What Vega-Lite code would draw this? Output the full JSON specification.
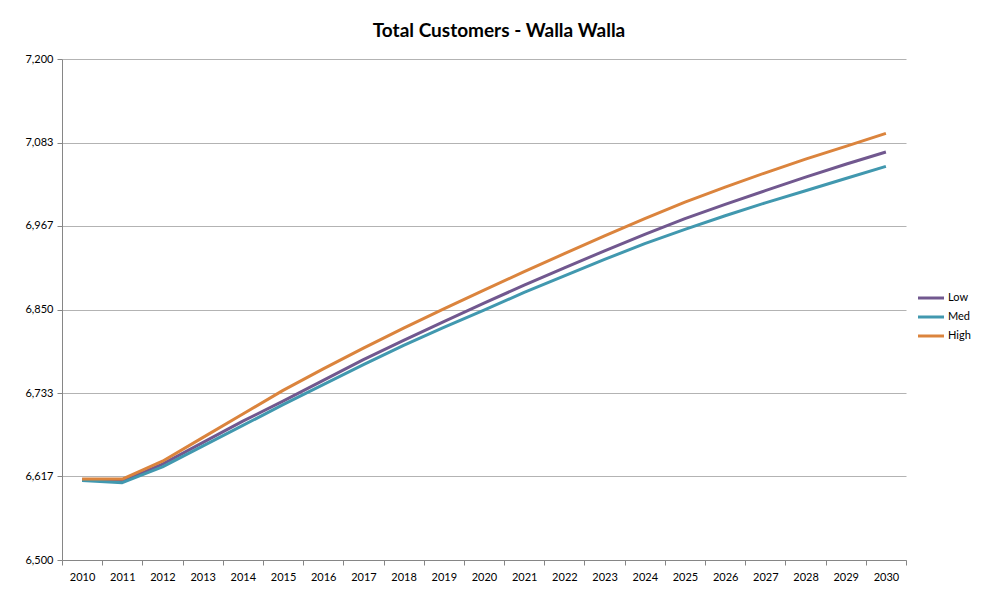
{
  "$schema": "https://vega.github.io/schema/vega-lite/v6.json",
  "width": 844,
  "height": 501,
  "autosize": {"type": "none"},
  "padding": {"left": 62, "top": 59, "right": 79, "bottom": 39},
  "background": "white",
  "title": {
    "text": "Total Customers - Walla Walla",
    "font": "Lato",
    "fontSize": 19,
    "fontWeight": "bold",
    "color": "#000000",
    "anchor": "middle",
    "dx": 15,
    "offset": 12
  },
  "config": {
    "view": {"stroke": null},
    "font": "Lato"
  },
  "data": {
    "values": [
      {"year": "2010", "series": "Low", "value": 6612},
      {"year": "2011", "series": "Low", "value": 6610},
      {"year": "2012", "series": "Low", "value": 6634},
      {"year": "2013", "series": "Low", "value": 6664},
      {"year": "2014", "series": "Low", "value": 6694},
      {"year": "2015", "series": "Low", "value": 6722},
      {"year": "2016", "series": "Low", "value": 6751},
      {"year": "2017", "series": "Low", "value": 6780},
      {"year": "2018", "series": "Low", "value": 6807},
      {"year": "2019", "series": "Low", "value": 6833},
      {"year": "2020", "series": "Low", "value": 6859},
      {"year": "2021", "series": "Low", "value": 6884},
      {"year": "2022", "series": "Low", "value": 6908},
      {"year": "2023", "series": "Low", "value": 6932},
      {"year": "2024", "series": "Low", "value": 6955},
      {"year": "2025", "series": "Low", "value": 6977},
      {"year": "2026", "series": "Low", "value": 6997},
      {"year": "2027", "series": "Low", "value": 7016},
      {"year": "2028", "series": "Low", "value": 7035},
      {"year": "2029", "series": "Low", "value": 7053},
      {"year": "2030", "series": "Low", "value": 7070},
      {"year": "2010", "series": "Med", "value": 6611},
      {"year": "2011", "series": "Med", "value": 6608},
      {"year": "2012", "series": "Med", "value": 6630},
      {"year": "2013", "series": "Med", "value": 6659},
      {"year": "2014", "series": "Med", "value": 6688},
      {"year": "2015", "series": "Med", "value": 6717},
      {"year": "2016", "series": "Med", "value": 6745},
      {"year": "2017", "series": "Med", "value": 6773},
      {"year": "2018", "series": "Med", "value": 6800},
      {"year": "2019", "series": "Med", "value": 6825},
      {"year": "2020", "series": "Med", "value": 6849},
      {"year": "2021", "series": "Med", "value": 6874},
      {"year": "2022", "series": "Med", "value": 6897},
      {"year": "2023", "series": "Med", "value": 6920},
      {"year": "2024", "series": "Med", "value": 6942},
      {"year": "2025", "series": "Med", "value": 6962},
      {"year": "2026", "series": "Med", "value": 6981},
      {"year": "2027", "series": "Med", "value": 6999},
      {"year": "2028", "series": "Med", "value": 7016},
      {"year": "2029", "series": "Med", "value": 7033},
      {"year": "2030", "series": "Med", "value": 7050},
      {"year": "2010", "series": "High", "value": 6613},
      {"year": "2011", "series": "High", "value": 6613},
      {"year": "2012", "series": "High", "value": 6638},
      {"year": "2013", "series": "High", "value": 6671},
      {"year": "2014", "series": "High", "value": 6704},
      {"year": "2015", "series": "High", "value": 6737},
      {"year": "2016", "series": "High", "value": 6767},
      {"year": "2017", "series": "High", "value": 6796},
      {"year": "2018", "series": "High", "value": 6824},
      {"year": "2019", "series": "High", "value": 6851},
      {"year": "2020", "series": "High", "value": 6877},
      {"year": "2021", "series": "High", "value": 6903},
      {"year": "2022", "series": "High", "value": 6928},
      {"year": "2023", "series": "High", "value": 6953},
      {"year": "2024", "series": "High", "value": 6977},
      {"year": "2025", "series": "High", "value": 7000},
      {"year": "2026", "series": "High", "value": 7021},
      {"year": "2027", "series": "High", "value": 7041},
      {"year": "2028", "series": "High", "value": 7060},
      {"year": "2029", "series": "High", "value": 7078},
      {"year": "2030", "series": "High", "value": 7096}
    ]
  },
  "mark": {"type": "line", "strokeWidth": 3, "strokeCap": "butt", "strokeJoin": "round"},
  "encoding": {
    "x": {
      "field": "year",
      "type": "ordinal",
      "scale": {"type": "band", "paddingInner": 0, "paddingOuter": 0},
      "axis": {
        "title": null,
        "labelAngle": 0,
        "labelFont": "Lato",
        "labelFontSize": 11,
        "labelColor": "#000000",
        "labelPadding": 6,
        "tickBand": "extent",
        "tickSize": 5,
        "tickColor": "#868686",
        "domainColor": "#868686",
        "grid": false
      }
    },
    "y": {
      "field": "value",
      "type": "quantitative",
      "scale": {"domain": [6500, 7200], "nice": false, "zero": false},
      "axis": {
        "title": null,
        "values": [6500, 6616.6667, 6733.3333, 6850, 6966.6667, 7083.3333, 7200],
        "format": ",.0f",
        "labelFont": "Lato",
        "labelFontSize": 11,
        "labelColor": "#000000",
        "labelPadding": 4,
        "tickSize": 5,
        "tickColor": "#868686",
        "domainColor": "#868686",
        "grid": true,
        "gridColor": "#b3b3b3",
        "gridWidth": 1
      }
    },
    "color": {
      "field": "series",
      "type": "nominal",
      "scale": {"domain": ["Low", "Med", "High"], "range": ["#71588F", "#4198AF", "#DB843D"]},
      "legend": {
        "title": null,
        "orient": "none",
        "legendX": 861,
        "legendY": 231,
        "symbolType": "M-2,0H2",
        "symbolSize": 169,
        "symbolStrokeWidth": 3,
        "labelOffset": 9,
        "labelFont": "Lato",
        "labelFontSize": 11,
        "labelColor": "#000000",
        "rowPadding": 5
      }
    }
  }
}
